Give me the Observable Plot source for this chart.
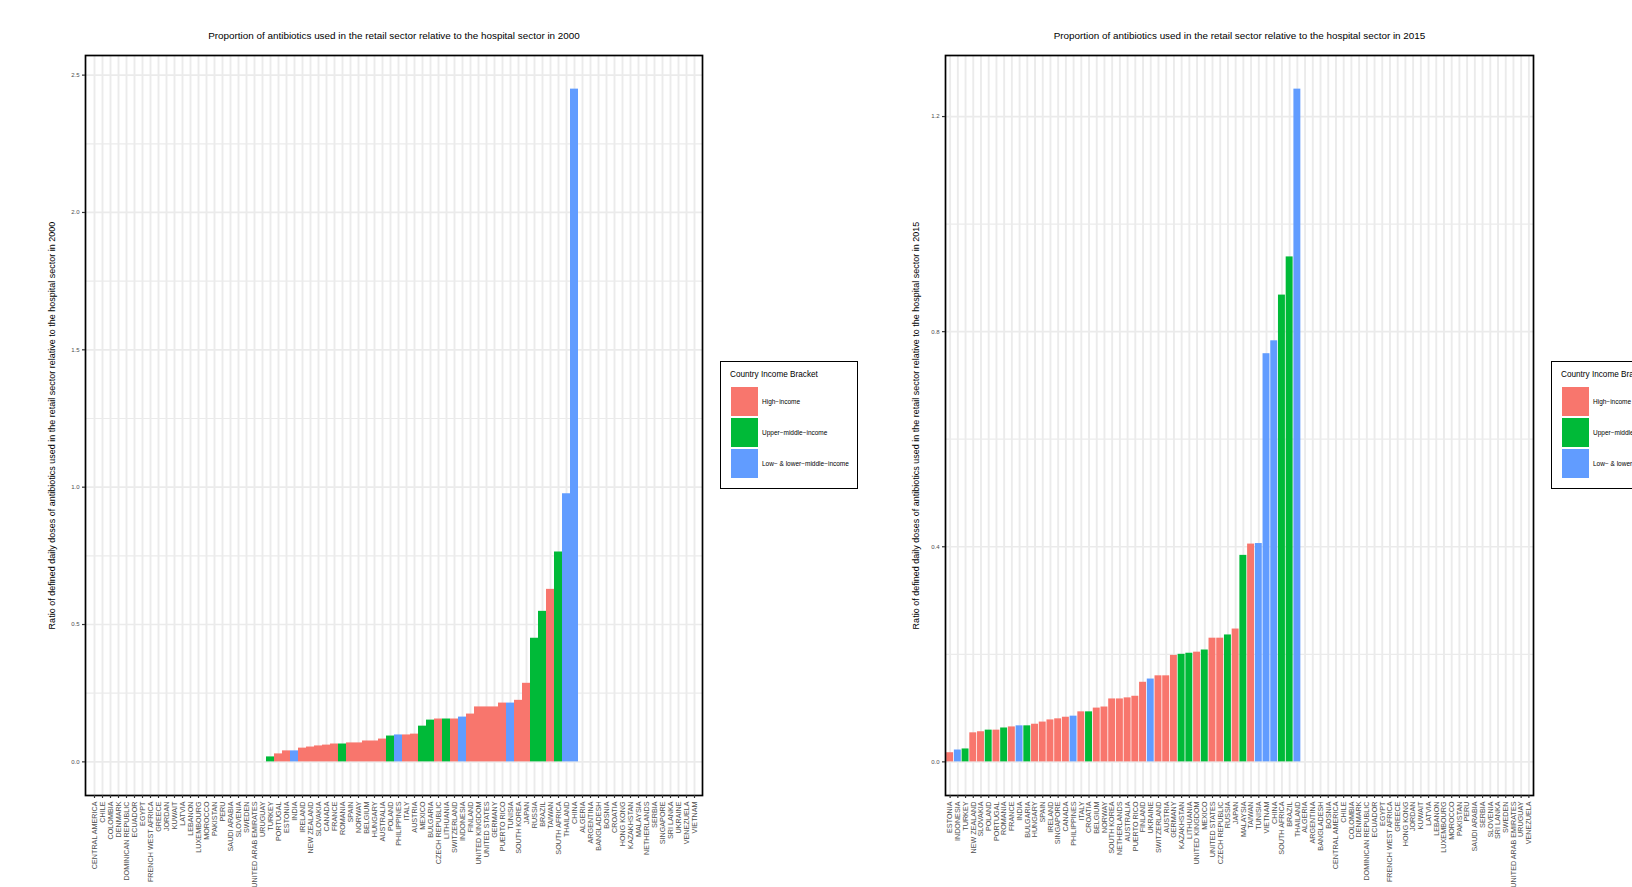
<!DOCTYPE html>
<html><head><meta charset="utf-8">
<script src="https://cdn.jsdelivr.net/npm/d3@7"></script>
<script src="https://cdn.jsdelivr.net/npm/@observablehq/plot@0.6"></script>
<style>
body{margin:0;background:#fff;overflow:hidden;font-family:"Liberation Sans",Arial,Helvetica,sans-serif;}
#wrap{position:relative;width:1632px;height:887px;overflow:hidden;background:#fff;}
.chart{position:absolute;top:0;}
.legend{position:absolute;top:361px;width:138px;height:128px;border:1.6px solid #000;background:#fff;box-sizing:border-box;}
.legend .lt{position:absolute;left:9px;top:8px;font-size:8.2px;color:#000;white-space:nowrap;}
.legend .sw{position:absolute;left:10px;width:27px;height:29px;}
.legend .ll{position:absolute;left:41px;font-size:6.5px;color:#000;white-space:nowrap;line-height:29px;}
</style>
</head><body>
<div id="wrap"></div>
<script>
// ---------- data ----------
const incomeLevels = ["High\u2212income", "Upper\u2212middle\u2212income", "Low\u2212 & lower\u2212middle\u2212income"];
const incomeColors = ["#F8766D", "#00BA38", "#619CFF"];
const legendTitle = "Country Income Bracket";

const title2000 = "Proportion of antibiotics used in the retail sector relative to the hospital sector in 2000";
const ylab2000 = "Ratio of defined daily doses of antibiotics used in the retail sector relative to the hospital sector in 2000";
const title2015 = "Proportion of antibiotics used in the retail sector relative to the hospital sector in 2015";
const ylab2015 = "Ratio of defined daily doses of antibiotics used in the retail sector relative to the hospital sector in 2015";

const countries2000 = ["CENTRAL AMERICA","CHILE","COLOMBIA","DENMARK","DOMINICAN REPUBLIC","ECUADOR","EGYPT","FRENCH WEST AFRICA","GREECE","JORDAN","KUWAIT","LATVIA","LEBANON","LUXEMBOURG","MOROCCO","PAKISTAN","PERU","SAUDI ARABIA","SLOVENIA","SWEDEN","UNITED ARAB EMIRATES","URUGUAY","TURKEY","PORTUGAL","ESTONIA","INDIA","IRELAND","NEW ZEALAND","SLOVAKIA","CANADA","FRANCE","ROMANIA","SPAIN","NORWAY","BELGIUM","HUNGARY","AUSTRALIA","POLAND","PHILIPPINES","ITALY","AUSTRIA","MEXICO","BULGARIA","CZECH REPUBLIC","LITHUANIA","SWITZERLAND","INDONESIA","FINLAND","UNITED KINGDOM","UNITED STATES","GERMANY","PUERTO RICO","TUNISIA","SOUTH KOREA","JAPAN","RUSSIA","BRAZIL","TAIWAN","SOUTH AFRICA","THAILAND","CHINA","ALGERIA","ARGENTINA","BANGLADESH","BOSNIA","CROATIA","HONG KONG","KAZAKHSTAN","MALAYSIA","NETHERLANDS","SERBIA","SINGAPORE","SRI LANKA","UKRAINE","VENEZUELA","VIETNAM"];
const values2000 = [0,0,0,0,0,0,0,0,0,0,0,0,0,0,0,0,0,0,0,0,0,0,
  0.018,0.029,0.040,0.040,0.050,0.054,0.058,0.061,0.065,0.065,0.069,0.069,0.076,0.076,0.083,0.094,0.098,0.098,0.101,0.130,0.152,0.156,0.156,0.156,0.163,0.174,0.200,0.200,0.200,0.214,0.214,0.224,0.286,0.450,0.548,0.628,0.764,0.976,2.449,
  null,null,null,null,null,null,null,null,null,null,null,null,null,null,null];
// income bracket index (0 high, 1 upper-middle, 2 low & lower-middle) for countries with a bar
const income2000 = [null,null,null,null,null,null,null,null,null,null,null,null,null,null,null,null,null,null,null,null,null,null,
  1,0,0,2,0,0,0,0,0,1,0,0,0,0,0,1,2,0,0,1,1,0,1,0,2,0,0,0,0,0,2,0,0,1,1,0,1,2,2,
  null,null,null,null,null,null,null,null,null,null,null,null,null,null,null];

const countries2015 = ["ESTONIA","INDONESIA","TURKEY","NEW ZEALAND","SLOVAKIA","POLAND","PORTUGAL","ROMANIA","FRANCE","INDIA","BULGARIA","HUNGARY","SPAIN","IRELAND","SINGAPORE","CANADA","PHILIPPINES","ITALY","CROATIA","BELGIUM","NORWAY","SOUTH KOREA","NETHERLANDS","AUSTRALIA","PUERTO RICO","FINLAND","UKRAINE","SWITZERLAND","AUSTRIA","GERMANY","KAZAKHSTAN","LITHUANIA","UNITED KINGDOM","MEXICO","UNITED STATES","CZECH REPUBLIC","RUSSIA","JAPAN","MALAYSIA","TAIWAN","TUNISIA","VIETNAM","CHINA","SOUTH AFRICA","BRAZIL","THAILAND","ALGERIA","ARGENTINA","BANGLADESH","BOSNIA","CENTRAL AMERICA","CHILE","COLOMBIA","DENMARK","DOMINICAN REPUBLIC","ECUADOR","EGYPT","FRENCH WEST AFRICA","GREECE","HONG KONG","JORDAN","KUWAIT","LATVIA","LEBANON","LUXEMBOURG","MOROCCO","PAKISTAN","PERU","SAUDI ARABIA","SERBIA","SLOVENIA","SRI LANKA","SWEDEN","UNITED ARAB EMIRATES","URUGUAY","VENEZUELA"];
const values2015 = [0.017,0.022,0.024,0.054,0.056,0.059,0.059,0.063,0.065,0.067,0.067,0.070,0.074,0.078,0.080,0.083,0.085,0.093,0.093,0.100,0.102,0.117,0.117,0.119,0.122,0.148,0.154,0.160,0.160,0.198,0.200,0.202,0.204,0.208,0.230,0.230,0.236,0.247,0.384,0.405,0.406,0.759,0.783,0.868,0.939,1.251,
  null,null,null,null,null,null,null,null,null,null,null,null,null,null,null,null,null,null,null,null,null,null,null,null,null,null,null,null,null,null];
const income2015 = [0,2,1,0,0,1,0,1,0,2,1,0,0,0,0,0,2,0,1,0,0,0,0,0,0,0,2,0,0,0,1,1,0,1,0,0,1,0,1,0,2,2,2,1,1,2,
  null,null,null,null,null,null,null,null,null,null,null,null,null,null,null,null,null,null,null,null,null,null,null,null,null,null,null,null,null,null];

const yTicks2000 = [0, 0.5, 1.0, 1.5, 2.0, 2.5];
const yMinor2000 = [0.25, 0.75, 1.25, 1.75, 2.25];
const yTicks2015 = [0, 0.4, 0.8, 1.2];
const yMinor2015 = [0.2, 0.6, 1.0];

// ---------- drawing ----------
const FONT = '"Liberation Sans", Arial, Helvetica, sans-serif';

function makeChart(o) {
  const rows = o.countries.map((c, i) => ({country: c, value: o.values[i], income: o.income[i] == null ? null : incomeLevels[o.income[i]]}));
  const bars = rows.filter(d => d.value != null && d.value > 0);
  const maxV = d3.max(bars, d => d.value);
  const ex = maxV * 0.05;
  const p = o.padding;
  return Plot.plot({
    width: 816, height: 887,
    marginLeft: o.marginLeft, marginRight: o.marginRight, marginTop: 55, marginBottom: 92,
    style: {fontFamily: FONT, background: "transparent", overflow: "visible"},
    x: {type: "band", domain: o.countries, paddingInner: p, paddingOuter: 0.6 - (1 - p) / 2, align: 0.5, label: null},
    y: {domain: [-ex, maxV + ex], label: null},
    color: {domain: incomeLevels, range: incomeColors, legend: false},
    marks: [
      Plot.gridY(o.minor, {stroke: "#ebebeb", strokeOpacity: 1, strokeWidth: 1.2}),
      Plot.gridY(o.ticks, {stroke: "#ebebeb", strokeOpacity: 1, strokeWidth: 1.7}),
      Plot.gridX({stroke: "#ebebeb", strokeOpacity: 1, strokeWidth: 1.9}),
      Plot.barY(bars, {x: "country", y: "value", fill: "income"}),
      Plot.frame({stroke: "#000", strokeWidth: 1.7}),
      Plot.axisY(o.ticks, {tickSize: 3, tickPadding: 3, fontSize: 6, fill: "#4d4d4d", stroke: "#333", strokeWidth: 1.2, label: null, tickFormat: d3.format(".1f")}),
      Plot.axisX({tickRotate: -90, tickSize: 3, tickPadding: 3, fontSize: 7.2, fill: "#4d4d4d", stroke: "#333", strokeWidth: 1.2, label: null}),
      Plot.text([o.title], {frameAnchor: "top", dy: -20, textAnchor: "middle", lineAnchor: "middle", fontSize: 9.9, fill: "#000"}),
      Plot.text([o.ylab], {frameAnchor: "left", dx: -o.ylabOffset, rotate: -90, textAnchor: "middle", lineAnchor: "middle", fontSize: 9, fill: "#000"})
    ]
  });
}

function makeLegend(left) {
  const div = document.createElement("div");
  div.className = "legend";
  div.style.left = left + "px";
  const t = document.createElement("div");
  t.className = "lt"; t.textContent = legendTitle; div.appendChild(t);
  incomeLevels.forEach((lab, i) => {
    const sw = document.createElement("div");
    sw.className = "sw"; sw.style.top = (25 + i * 31) + "px"; sw.style.background = incomeColors[i];
    div.appendChild(sw);
    const l = document.createElement("div");
    l.className = "ll"; l.style.top = (25 + i * 31) + "px"; l.textContent = lab;
    div.appendChild(l);
  });
  return div;
}

const wrap = document.getElementById("wrap");
const c1 = makeChart({countries: countries2000, values: values2000, income: income2000, title: title2000, ylab: ylab2000,
  ticks: yTicks2000, minor: yMinor2000, padding: 0, marginLeft: 85, marginRight: 114, ylabOffset: 33});
c1.classList.add("chart"); c1.style.left = "0px";
wrap.appendChild(c1);
const c2 = makeChart({countries: countries2015, values: values2015, income: income2015, title: title2015, ylab: ylab2015,
  ticks: yTicks2015, minor: yMinor2015, padding: 0.1, marginLeft: 129, marginRight: 99, ylabOffset: 29});
c2.classList.add("chart"); c2.style.left = "816px";
wrap.appendChild(c2);
wrap.appendChild(makeLegend(720));
wrap.appendChild(makeLegend(1551));
</script>
</body></html>
